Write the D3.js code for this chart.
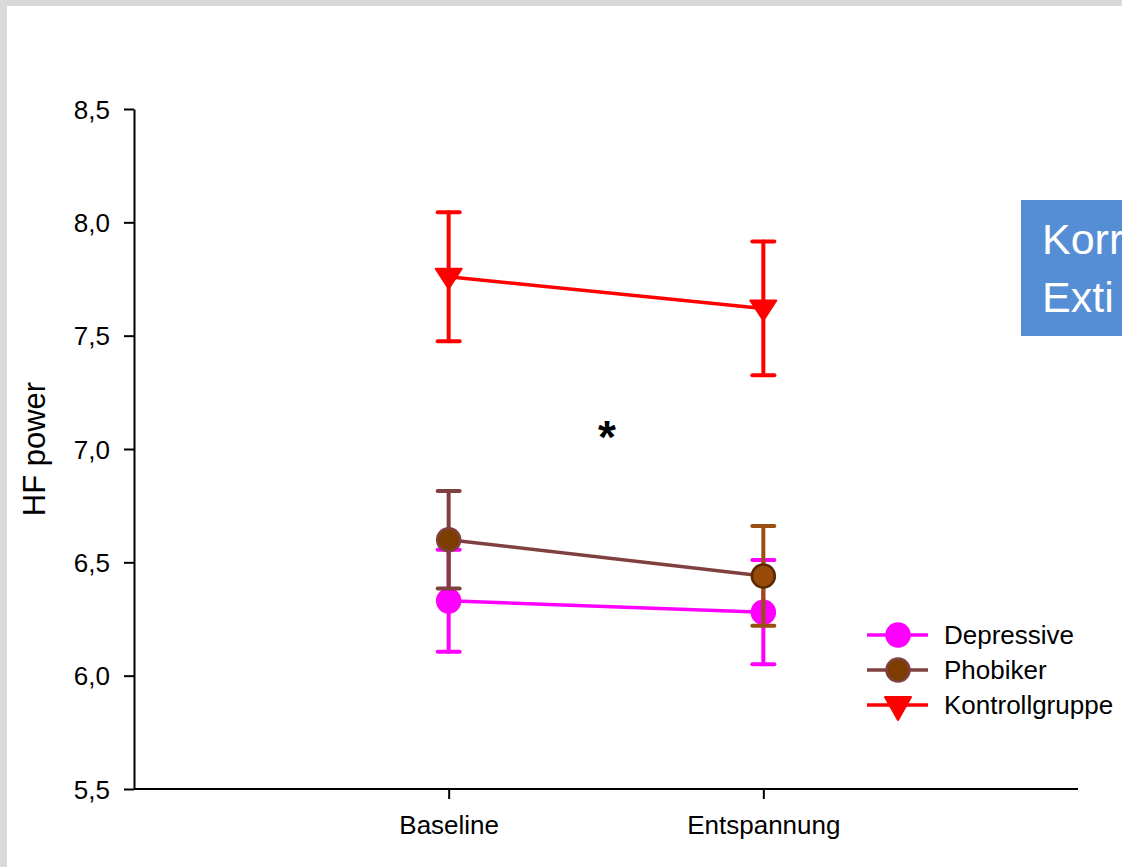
<!DOCTYPE html>
<html>
<head>
<meta charset="utf-8">
<script src="https://cdn.jsdelivr.net/npm/d3@7"></script>
<style>
  body { margin: 0; overflow: hidden; background: #d9d9d9; }
  text { font-family: "Liberation Sans", Arial, sans-serif; }
</style>
</head>
<body>
<script>
// data
const conditions = ["Baseline", "Entspannung"];
const yTicks = [5.5, 6.0, 6.5, 7.0, 7.5, 8.0, 8.5];

const depressiveMean = [6.33, 6.28];
const depressiveErr = [0.225, 0.23];
const phobikerMean = [6.60, 6.44];
const phobikerErr = [0.215, 0.22];
const kontrollMean = [7.76, 7.62];
const kontrollErr = [0.285, 0.295];

const seriesNames = ["Depressive", "Phobiker", "Kontrollgruppe"];

// build series table
const series = [
  { name: seriesNames[0], mean: depressiveMean, err: depressiveErr, line: "#ff00ff",
    bar: ["#ff00ff", "#ff00ff"], fill: ["#ff00ff", "#ff00ff"], stroke: ["#ff00ff", "#ff00ff"], shape: "circle" },
  { name: seriesNames[1], mean: phobikerMean, err: phobikerErr, line: "#804040",
    bar: ["#804040", "#9a4f12"], fill: ["#7c3d00", "#994a06"], stroke: ["#804040", "#5a2a00"], shape: "circle" },
  { name: seriesNames[2], mean: kontrollMean, err: kontrollErr, line: "#ff0000",
    bar: ["#ff0000", "#ff0000"], fill: ["#ff0000", "#ff0000"], stroke: ["#ff0000", "#ff0000"], shape: "triangle" }
];

const width = 1122;
const height = 867;
const margin = { top: 109, right: 44, bottom: 78, left: 134 };

const svg = d3.select('body')
  .append('svg')
  .attr('width', width)
  .attr('height', height);

// gray frame + white slide
svg.append('rect').attr('width', width).attr('height', height).attr('fill', '#d9d9d9');
svg.append('rect').attr('x', 7).attr('y', 6).attr('width', width - 7).attr('height', height - 6).attr('fill', '#fff');

// scales
const xScale = d3.scalePoint()
  .domain(conditions)
  .range([margin.left, width - margin.right])
  .padding(1);

const yScale = d3.scaleLinear()
  .domain([5.5, 8.5])
  .range([height - margin.bottom, margin.top]);

const comma = d3.formatLocale({ decimal: ",", thousands: ".", grouping: [3], currency: ["", "€"] }).format(".1f");

// Y axis
const yAxis = d3.axisLeft(yScale).tickValues(yTicks).tickFormat(comma).tickSize(10).tickPadding(14).tickSizeOuter(0);
const gy = svg.append('g')
  .attr('transform', `translate(${margin.left},0)`)
  .call(yAxis);
gy.select('.domain').attr('stroke', '#000').attr('stroke-width', 2);
gy.selectAll('.tick line').attr('stroke', '#000').attr('stroke-width', 2);
gy.selectAll('.tick text').attr('fill', '#000').style('font-size', '26px').attr('dy', '0.35em');

// X axis
const xAxis = d3.axisBottom(xScale).tickSize(10).tickPadding(17).tickSizeOuter(0);
const gx = svg.append('g')
  .attr('transform', `translate(0,${height - margin.bottom})`)
  .call(xAxis);
gx.select('.domain').attr('stroke', '#000').attr('stroke-width', 2)
  .attr('d', `M${margin.left},0H${width - margin.right}`);
gx.selectAll('.tick line').attr('stroke', '#000').attr('stroke-width', 2);
gx.selectAll('.tick text').attr('fill', '#000').style('font-size', '26px');

// y label
svg.append('text')
  .attr('transform', `translate(45,${yScale(7.0)}) rotate(-90)`)
  .attr('text-anchor', 'middle')
  .style('font-size', '31px')
  .text('HF power');

const tri = 'M-13,-8L13,-8L0,12Z';

// draw each series: error bars, line, markers
series.forEach(s => {
  const g = svg.append('g');
  const pts = conditions.map((c, i) => ({ c: c, i: i, m: s.mean[i], e: s.err[i] }));

  const eb = g.selectAll('g.eb').data(pts).join('g').attr('class', 'eb')
    .attr('stroke', d => s.bar[d.i]).attr('stroke-width', 4).attr('stroke-linecap', 'round');
  eb.append('line')
    .attr('x1', d => xScale(d.c)).attr('x2', d => xScale(d.c))
    .attr('y1', d => yScale(d.m + d.e)).attr('y2', d => yScale(d.m - d.e));
  eb.append('line')
    .attr('x1', d => xScale(d.c) - 11).attr('x2', d => xScale(d.c) + 11)
    .attr('y1', d => yScale(d.m + d.e)).attr('y2', d => yScale(d.m + d.e));
  eb.append('line')
    .attr('x1', d => xScale(d.c) - 11).attr('x2', d => xScale(d.c) + 11)
    .attr('y1', d => yScale(d.m - d.e)).attr('y2', d => yScale(d.m - d.e));

  g.append('path')
    .datum(pts)
    .attr('fill', 'none')
    .attr('stroke', s.line)
    .attr('stroke-width', 3.5)
    .attr('d', d3.line().x(d => xScale(d.c)).y(d => yScale(d.m)));

  if (s.shape === 'circle') {
    g.selectAll('circle').data(pts).join('circle')
      .attr('cx', d => xScale(d.c)).attr('cy', d => yScale(d.m)).attr('r', 11.5)
      .attr('fill', d => s.fill[d.i]).attr('stroke', d => s.stroke[d.i]).attr('stroke-width', 2.5);
  } else {
    g.selectAll('path.m').data(pts).join('path').attr('class', 'm')
      .attr('transform', d => `translate(${xScale(d.c)},${yScale(d.m)})`)
      .attr('d', tri)
      .attr('fill', d => s.fill[d.i]).attr('stroke', d => s.stroke[d.i])
      .attr('stroke-width', 2).attr('stroke-linejoin', 'round');
  }
});

// significance mark
svg.append('text')
  .attr('x', 607).attr('y', 453)
  .attr('text-anchor', 'middle')
  .style('font-size', '46px').style('font-weight', 'bold')
  .text('*');

// legend
const legend = svg.append('g').attr('transform', 'translate(867,635)');
series.forEach((s, i) => {
  const row = legend.append('g').attr('transform', `translate(0,${i * 35})`);
  row.append('line').attr('x1', 0).attr('x2', 61).attr('y1', 0).attr('y2', 0)
    .attr('stroke', s.line).attr('stroke-width', 3.5);
  if (s.shape === 'circle') {
    row.append('circle').attr('cx', 31).attr('cy', 0).attr('r', 11.5)
      .attr('fill', s.fill[0]).attr('stroke', s.stroke[0]).attr('stroke-width', 2.5);
  } else {
    row.append('path').attr('transform', 'translate(31,1)').attr('d', 'M-13,-9L13,-9L0,14Z')
      .attr('fill', s.fill[0]).attr('stroke', s.stroke[0]).attr('stroke-width', 2).attr('stroke-linejoin', 'round');
  }
  row.append('text').attr('x', 77).attr('y', 0).attr('dy', '0.35em')
    .style('font-size', '26px').text(s.name);
});

// blue box, cut off by the slide edge
svg.append('rect').attr('x', 1021).attr('y', 200).attr('width', width - 1021).attr('height', 136).attr('fill', '#558ed5');
svg.append('text').attr('x', 1042).attr('y', 254).attr('fill', '#fff').style('font-size', '43px').text('Korr');
svg.append('text').attr('x', 1042).attr('y', 312).attr('fill', '#fff').style('font-size', '43px').text('Exti');
</script>
</body>
</html>
